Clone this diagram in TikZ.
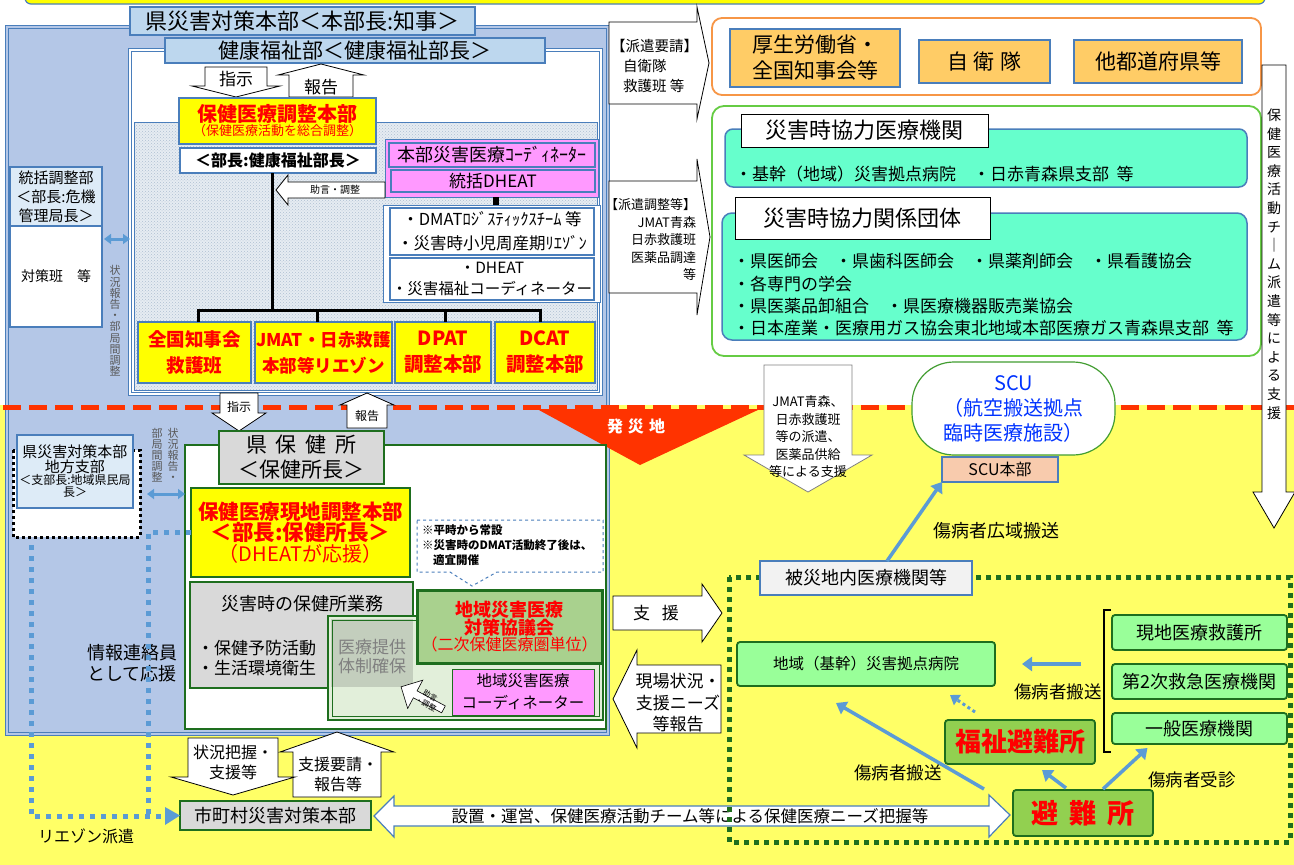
\documentclass[tikz,border=0pt]{standalone}
\usepackage{fontspec}
\setmainfont{Noto Sans CJK JP}
\usetikzlibrary{patterns,arrows.meta,shapes.arrows,calc}
\definecolor{sb}{HTML}{4A7EBB}
\definecolor{panelblue}{HTML}{B4C7E7}
\definecolor{hdrblue}{HTML}{BDD7EE}
\definecolor{ltblue}{HTML}{DDEBF7}
\definecolor{bgyellow}{HTML}{FFFF66}
\definecolor{boxyellow}{HTML}{FFFF00}
\definecolor{redtxt}{HTML}{FF0000}
\definecolor{pinkf}{HTML}{FF99FF}
\definecolor{tealf}{HTML}{66FFCC}
\definecolor{orangef}{HTML}{FFCC66}
\definecolor{oranged}{HTML}{F79646}
\definecolor{ltgreend}{HTML}{66CC44}
\definecolor{dkgreen}{HTML}{1E6E1E}
\definecolor{ltgreenf}{HTML}{99FF99}
\definecolor{greenf}{HTML}{92D050}
\definecolor{kyogif}{HTML}{A9D18E}
\definecolor{grayf}{HTML}{D9D9D9}
\definecolor{arrblue}{HTML}{5B9BD5}
\definecolor{peach}{HTML}{F8CBAD}
\definecolor{scublue}{HTML}{0033FF}
\definecolor{dashred}{HTML}{FF3300}
\definecolor{speck}{HTML}{E6ECF2}
\definecolor{speckdot}{HTML}{AFC0D2}
\definecolor{palegreen}{HTML}{E2EFDA}
\definecolor{overlapf}{HTML}{C3CEBD}
\definecolor{txtgray}{HTML}{595959}
\definecolor{hisaif}{HTML}{F2F2F2}
\newcommand\fz[2]{\fontsize{#1}{#2}\selectfont}
\newcommand\bx[7]{\node[inner sep=0pt,outer sep=0pt,align=center,#1,minimum width={(#5-#3)*1pt},minimum height={(#6-#4)*1pt}] (#2) at ({(#3+#5)/2},{(#4+#6)/2}) {#7};}
\newcommand\myvarr[7]{\draw[#1] ({#2-#6},#3) -- ({#2+#6},#3) -- ({#2+#6},#4) -- ({#2+#7},#4) -- (#2,#5) -- ({#2-#7},#4) -- ({#2-#6},#4) -- cycle;}
\newcommand\myharr[7]{\draw[#1] (#3,{#2-#6}) -- (#3,{#2+#6}) -- (#4,{#2+#6}) -- (#4,{#2+#7}) -- (#5,#2) -- (#4,{#2-#7}) -- (#4,{#2-#6}) -- cycle;}
\tikzset{
 bxs/.style={draw=sb,line width=1.5pt},
 bxg/.style={draw=dkgreen,line width=1.8pt},
 blk/.style={draw=black,line width=0.8pt,fill=white},
 lbl/.style={inner sep=0pt,outer sep=0pt,align=center},
 barr/.style={draw=arrblue,line width=3.5pt,-{Triangle[length=10pt,width=14pt]}},
 dbl/.style={draw=arrblue,line width=3pt,{Triangle[length=7pt,width=10pt]}-{Triangle[length=7pt,width=10pt]}},
 bdot/.style={draw=arrblue,line width=5pt,dash pattern=on 5pt off 6pt},
}
\begin{document}
\begin{tikzpicture}[x=1pt,y=-1pt]
\useasboundingbox (0,0) rectangle (1294,865);
\fill[white] (0,0) rectangle (1294,865);
\fill[bgyellow] (0,405) rectangle (1294,865);
\draw[sb,line width=1.2pt,fill=boxyellow,rounded corners=6pt] (25,-20) rectangle (1265,4);
% big blue panel
\draw[sb,line width=1pt,double=panelblue,double distance=2pt,fill=panelblue] (7,27) rectangle (608,734);
\bx{bxs,fill=hdrblue,line width=2pt,font=\fz{22}{25}}{hq}{130}{7}{475}{35}{県災害対策本部＜本部長:知事＞}
% health welfare dept
\draw[sb,line width=1pt,double=white,double distance=2pt,fill=white] (130,50) rectangle (601,394);
\bx{bxs,fill=hdrblue,font=\fz{21}{24}}{kfb}{165}{38}{545}{63}{健康福祉部＜健康福祉部長＞}
\fill[speck] (134,122) rectangle (597,390);
\fill[pattern=crosshatch dots,pattern color=speckdot] (134,122) rectangle (597,390);
\draw[sb,line width=1pt] (134,122) rectangle (597,390);
\myvarr{blk}{236}{67}{86}{97}{31}{44}
\node[lbl,font=\fz{17}{17}] (shiji1) at (236,79) {指示};
\myvarr{blk}{321}{97}{75}{64}{32}{43}
\node[lbl,font=\fz{17}{17}] (hokoku1) at (321,87) {報告};
\bx{bxs,fill=boxyellow,line width=2pt,text=redtxt}{hcb}{179}{98}{376}{144}{{\bfseries\fz{20}{23}保健医療調整本部}\\{\fz{13}{16}（保健医療活動を総合調整）}}
\bx{bxs,fill=white,font=\bfseries\fz{16}{18}}{bucho}{180}{148}{376}{173}{＜部長:健康福祉部長＞}
% pink group
\bx{draw=sb,line width=1pt,fill=pinkf}{pinkout}{385}{139}{598}{197}{}
\bx{bxs,fill=pinkf,font=\fz{18}{20}}{coord}{389}{143}{595}{167}{本部災害医療ｺｰﾃﾞｨﾈｰﾀｰ}
\bx{bxs,fill=pinkf,font=\fz{17}{19}}{dheat1}{391}{170}{595}{192}{統括DHEAT}
\bx{draw=sb,line width=1pt,fill=white}{wb2}{383}{205}{600}{302}{}
\bx{bxs,fill=white,font=\fz{16.5}{24}}{dmat}{390}{208}{594}{255}{・DMATﾛｼﾞｽﾃｨｯｸｽﾁｰﾑ 等\\・災害時小児周産期ﾘｴｿﾞﾝ}
\bx{bxs,fill=white,font=\fz{15.5}{21}}{dheat2}{390}{258}{594}{300}{・DHEAT\\・災害福祉コーディネーター}
\draw[line width=6pt] ([xshift=4.5pt]pinkout.south) -- ([xshift=4.5pt]wb2.north);
\myharr{blk}{190}{385}{288}{276}{8}{15}
\node[lbl,font=\fz{10}{10}] (jogen1) at (335,190) {助言・調整};
% yellow boxes
\bx{bxs,fill=boxyellow,text=redtxt,font=\bfseries\fz{18.5}{26}}{yb1}{138}{322}{251}{383}{全国知事会\\救護班}
\bx{bxs,fill=boxyellow,text=redtxt,font=\bfseries\fz{17.5}{26}}{yb2}{255}{322}{392}{383}{JMAT・日赤救護\\本部等リエゾン}
\bx{bxs,fill=boxyellow,text=redtxt,font=\bfseries\fz{19.5}{26}}{yb3}{395}{322}{491}{383}{DPAT\\調整本部}
\bx{bxs,fill=boxyellow,text=redtxt,font=\bfseries\fz{19.5}{26}}{yb4}{495}{322}{595}{383}{DCAT\\調整本部}
\draw[line width=3pt] ([xshift=-6pt]bucho.south) -- ++(0,137);
\draw[line width=3pt] ([xshift=4pt]yb1.north) -- ++(0,-12) -| ([xshift=-5pt]yb4.north);
\draw[line width=3pt] ([xshift=-6pt]yb2.north) -- ++(0,-12);
\draw[line width=3pt] ([xshift=2pt]yb3.north) -- ++(0,-12);
% left column
\bx{bxs,fill=ltblue,font=\fz{15}{19}}{tokatsu}{10}{167}{102}{226}{統括調整部\\＜部長:危機\\管理局長＞}
\bx{bxs,fill=white,font=\fz{14}{16}}{taisaku}{10}{226}{102}{327}{対策班　等}
\draw[dbl] ([yshift=-13pt,xshift=2pt]taisaku.north east) -- ++(26,0);
\node[lbl,text=txtgray,font=\fz{11}{11.2}] (vt1) at (115,321) {状\\況\\報\\告\\・\\部\\局\\間\\調\\整};
% upper right
\myharr{blk}{63}{609}{697}{709}{41}{56}
\node[lbl,anchor=west,align=left,font=\fz{14.5}{20}] (haken1) at (611,66) {【派遣要請】\\\hspace*{12pt}自衛隊\\\hspace*{12pt}救護班 等};
\myharr{blk}{237}{609}{697}{710}{56}{78}
\node[lbl,anchor=east,align=right,font=\fz{13}{17.5}] (haken2) at (696,240) {【派遣調整等】\\JMAT青森\\日赤救護班\\医薬品調達\\等};
\bx{draw=oranged,line width=1.8pt,fill=white,rounded corners=10pt}{orbox}{712}{18}{1261}{95}{}
\bx{bxs,fill=orangef,font=\fz{21}{26}}{mhlw}{730}{29}{900}{87}{厚生労働省・\\全国知事会等}
\bx{bxs,fill=orangef,font=\fz{21}{24}}{jsdf}{919}{40}{1050}{83}{自\hspace{6pt}衛\hspace{6pt}隊}
\bx{bxs,fill=orangef,font=\fz{21}{24}}{others}{1074}{40}{1242}{83}{他都道府県等}
\bx{draw=ltgreend,line width=1.8pt,fill=white,rounded corners=12pt}{grbox}{712}{106}{1261}{356}{}
\bx{draw=sb,line width=1.5pt,fill=tealf,rounded corners=8pt}{teal1}{725}{129}{1247}{187}{}
\bx{draw=black,line width=1pt,fill=white,font=\fz{22}{24}}{lbla}{741}{114}{988}{147}{災害時協力医療機関}
\node[lbl,anchor=west,font=\fz{17}{19}] (t1) at (735,174) {・基幹（地域）災害拠点病院　・日赤青森県支部\ \ 等};
\bx{draw=sb,line width=1.5pt,fill=tealf,rounded corners=10pt}{teal2}{722}{213}{1247}{340}{}
\bx{draw=black,line width=1pt,fill=white,font=\fz{22}{24}}{lblb}{735}{197}{990}{239}{災害時協力関係団体}
\node[lbl,anchor=west,align=left,font=\fz{17}{22.3}] (t2) at (733,295) {・県医師会　・県歯科医師会　・県薬剤師会　・県看護協会\\・各専門の学会\\・県医薬品卸組合　・県医療機器販売業協会\\・日本産業・医療用ガス協会東北地域本部医療ガス青森県支部\ \ 等};
% red dashed line
\draw[dashred,line width=5pt,dash pattern=on 18pt off 8pt] (3,407) -- (1294,407);
% right vertical arrow
\myvarr{blk}{1274}{65}{492}{528}{12}{21}
\node[lbl,font=\fz{14}{18.6}] (vt2) at (1274,264) {保\\健\\医\\療\\活\\動\\チ\\｜\\ム\\派\\遣\\等\\に\\よ\\る\\支\\援};
% disaster area
\fill[dashred] (537,409) -- (760,409) -- (640,465) -- cycle;
\node[lbl,text=white,font=\bfseries\fz{16}{16}] (hassai) at (636,426) {発\hspace{5pt}災\hspace{5pt}地};
\myvarr{blk}{239}{393}{413}{431}{19}{27}
\node[lbl,font=\fz{12}{12}] (shiji2) at (239,407) {指示};
\myvarr{blk}{367}{428}{405}{393}{20}{27}
\node[lbl,font=\fz{12}{12}] (hokoku2) at (367,416) {報告};
% regional branch
\draw[black,line width=3pt,dash pattern=on 3pt off 3pt,fill=white] (13,450) rectangle (140,537);
\bx{bxs,fill=ltblue,line width=1.2pt}{chiho}{17}{435}{133}{508}{{\fz{15}{18}県災害対策本部}\\{\fz{15}{18}地方支部}\\{\fz{12}{14}＜支部長:地域県民局}\\{\fz{12}{14}長＞}}
\node[lbl,text=txtgray,font=\fz{11}{11}] (vt3) at (173,455) {状\\況\\報\\告\\・};
\node[lbl,text=txtgray,font=\fz{11}{11}] (vt4) at (157,455) {部\\局\\間\\調\\整};
% health center
\bx{draw=dkgreen,line width=1.5pt,fill=white}{hokenarea}{185}{445}{606}{729}{}
\draw[dbl] (147,494) -- (hokenarea.west |- 0,494);
\bx{bxg,fill=grayf,font=\fz{21}{25}}{hokensho}{219}{431}{384}{484}{県\hspace{9pt}保\hspace{9pt}健\hspace{9pt}所\\＜保健所長＞}
\bx{bxg,fill=boxyellow,text=redtxt}{genchihq}{191}{488}{410}{577}{{\bfseries\fz{20.5}{27}保健医療現地調整本部}\\{\bfseries\fz{21.5}{28}＜部長:保健所長＞}\\{\fz{20}{27}（DHEATが応援）}}
\draw[sb,line width=1pt,dashed,fill=white] (417,520) -- (603,520) -- (603,572) -- (497,572) -- (472,586) -- (450,572) -- (417,572) -- cycle;
\node[lbl,anchor=north west,align=left,font=\bfseries\fz{11.5}{15}] (note) at (422,525) {※平時から常設\\※災害時のDMAT活動終了後は、\\\hspace*{11pt}適宜開催};
\bx{bxg,fill=grayf}{gyomu}{190}{582}{413}{688}{}
\draw[dkgreen,line width=2.5pt,fill=palegreen] (328,616) rectangle (603,720);
\fill[overlapf] (331,619) rectangle (413,687);
\draw[dkgreen,line width=0.8pt] (332,620) rectangle (599,716);
\node[lbl,font=\fz{18}{20}] (gyomut) at (302,604) {災害時の保健所業務};
\node[lbl,anchor=west,align=left,font=\fz{17}{20}] (gyomul) at (197,658) {・保健予防活動\\・生活環境衛生};
\node[lbl,text=gray,font=\fz{17}{19}] (iryo) at (372,657) {医療提供\\体制確保};
\bx{draw=dkgreen,line width=3pt,fill=kyogif,text=redtxt}{kyogi}{417}{590}{602}{663}{{\bfseries\fz{18}{21}地域災害医療}\\{\bfseries\fz{18}{21}対策協議会}\\{\fz{16}{21}（二次保健医療圏単位）}}
\bx{draw=dkgreen,line width=1pt,fill=pinkf,font=\fz{15.5}{22}}{chikicoord}{452}{669}{594}{715}{地域災害医療\\コーディネーター}
\node[single arrow,draw=black,fill=white,line width=0.6pt,minimum height=48pt,minimum width=32pt,single arrow head extend=4pt,inner sep=1pt,rotate=152] (jogen2) at (424,699) {};
\node[lbl,font=\fz{7.5}{9.5},rotate=-28] (jogen2t) at (428,700) {助言\\・調整};
\node[lbl,font=\fz{18}{21}] (joho) at (132,663) {情報連絡員\\として応援};
% blue dotted liaison lines
\bx{bxg,fill=grayf,font=\fz{18}{20}}{shicho}{180}{801}{371}{830}{市町村災害対策本部}
\draw[bdot] (genchihq.west) -- (148,532.5) -- (148,816);
\draw[bdot] (31,545) -- (31,816) -- (165,816);
\fill[arrblue] (165,807) -- (shicho.west) -- (165,825) -- cycle;
\node[lbl,font=\fz{16}{19}] (liaison) at (86,836) {リエゾン派遣};
% bottom arrows
\myvarr{blk}{337}{797}{752}{732}{44}{57}
\node[lbl,font=\fz{16}{20}] (shienyosei) at (338,774) {支援要請・\\報告等};
\myvarr{blk}{233}{738}{777}{795}{45}{62}
\node[lbl,font=\fz{16}{20}] (jokyo) at (233,762) {状況把握・\\支援等};
\draw[draw=sb,line width=1.2pt,fill=white] (374,816) -- (394,796) -- (394,806) -- (989,806) -- (989,795) -- (1010,815) -- (989,837) -- (989,826) -- (394,826) -- (394,837) -- cycle;
\node[lbl,font=\fz{16.5}{18}] (setchi) at (690,816) {設置・運営、保健医療活動チーム等による保健医療ニーズ把握等};
\myharr{blk}{613}{613}{702}{722}{17}{29}
\node[lbl,font=\fz{17}{19}] (shien) at (656,613) {支\hspace{12pt}援};
\myharr{blk}{699}{721}{637}{613}{34}{49}
\node[lbl,font=\fz{17}{21.5}] (genba) at (678,703) {現場状況・\\支援ニーズ\\等報告};
% right lower
\myvarr{draw=gray,line width=0.8pt,fill=white}{808}{365}{455}{492}{44}{64}
\node[lbl,font=\fz{13}{17.5}] (jmatt) at (808,437) {JMAT青森、\\日赤救護班\\等の派遣、\\医薬品供給\\等による支援};
\node[draw=ltgreend!50!dkgreen,line width=1.2pt,fill=white,rounded corners=42pt,minimum width=203pt,minimum height=93pt,inner sep=0pt,align=center,text=scublue,font=\fz{20}{25}] (scu) at (1013.5,408.5) {SCU\\（航空搬送拠点\\臨時医療施設）};
\bx{bxs,line width=1.2pt,fill=peach,font=\fz{16}{18}}{scuhq}{942}{457}{1058}{482}{SCU本部}
\draw[dkgreen,line width=5pt,dash pattern=on 5pt off 5pt] (729,577) rectangle (1290,842);
\bx{bxs,line width=1.2pt,fill=hisaif,font=\fz{18}{20}}{hisai}{760}{561}{972}{595}{被災地内医療機関等}
\draw[barr] ([xshift=21pt]hisai.north) -- (scuhq.south west);
\node[lbl,font=\fz{18}{20}] (kouiki) at (996,531) {傷病者広域搬送};
\bx{bxg,fill=ltgreenf,rounded corners=3pt,font=\fz{15.5}{18}}{kyoten}{737}{642}{995}{686}{地域（基幹）災害拠点病院}
\bx{bxg,fill=ltgreenf,rounded corners=3pt,font=\fz{18}{20}}{genchi}{1112}{615}{1287}{650}{現地医療救護所}
\bx{bxg,fill=ltgreenf,rounded corners=3pt,font=\fz{18}{20}}{dai2}{1112}{664}{1287}{699}{第2次救急医療機関}
\bx{bxg,fill=ltgreenf,rounded corners=3pt,font=\fz{18}{20}}{ippan}{1112}{713}{1287}{744}{一般医療機関}
\draw[black,line width=1.5pt] (1111,610) -- (1104,610) -- (1104,752) -- (1111,752);
\bx{bxg,fill=greenf,rounded corners=3pt,text=redtxt,font=\bfseries\fz{26}{28}}{fukushi}{945}{720}{1095}{764}{福祉避難所}
\bx{bxg,fill=greenf,rounded corners=3pt,text=redtxt,font=\bfseries\fz{27}{29}}{hinan}{1013}{790}{1153}{836}{避\hspace{11pt}難\hspace{11pt}所}
\draw[barr] ([xshift=86pt]kyoten.east) -- ([xshift=27pt]kyoten.east);
\node[lbl,font=\fz{17.5}{20}] (hanso1) at (1058,692) {傷病者搬送};
\draw[barr] ([xshift=-29pt,yshift=1pt]hinan.north west) -- ([xshift=-30pt,yshift=-17pt]kyoten.south);
\draw[barr] ([xshift=-17pt,yshift=2pt]hinan.north) -- ([xshift=22pt,yshift=-6pt]fukushi.south);
\draw[barr] ([xshift=20pt,yshift=1pt]hinan.north) -- ([xshift=-52pt,yshift=-4pt]ippan.south);
\draw[draw=arrblue,line width=3pt,dash pattern=on 3pt off 3pt,-{Triangle[length=9pt,width=12pt]}] ([xshift=-45pt,yshift=8pt]fukushi.north) -- ([xshift=-70pt,yshift=25pt]fukushi.north);
\node[lbl,font=\fz{17.5}{20}] (hanso2) at (898,773) {傷病者搬送};
\node[lbl,font=\fz{17.5}{20}] (jushin) at (1192,780) {傷病者受診};
\end{tikzpicture}
\end{document}
